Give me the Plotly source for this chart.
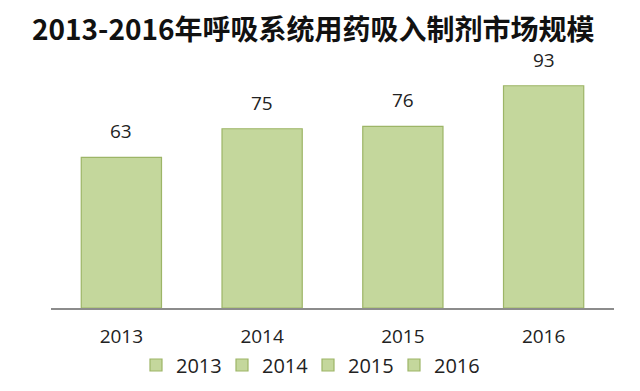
import plotly.graph_objects as go

years = ["2013", "2014", "2015", "2016"]
values = [63, 75, 76, 93]

fill = "#c4d79c"
edge = "#9db567"
font_fam = "Open Sans, Liberation Sans, sans-serif"

fig = go.Figure()
for i, (y, v) in enumerate(zip(years, values)):
    fig.add_trace(go.Bar(
        x=[y], y=[v], name=y,
        marker=dict(color=fill, line=dict(color=edge, width=1.2)),
        width=0.57,
    ))
    fig.add_annotation(x=i, y=v, text=str(v), showarrow=False,
                       yanchor="bottom", yshift=11,
                       font=dict(size=19, color="#222222", family=font_fam))

fig.update_layout(
    width=640, height=391,
    margin=dict(l=43, r=34, t=61, b=91, autoexpand=False),
    barmode="overlay",
    plot_bgcolor="white", paper_bgcolor="white",
    title=dict(text="<b>2013-2016年呼吸系统用药吸入制剂市场规模</b>",
               x=24/640, xanchor="left", y=1 - 22/391, yanchor="middle", yref="container",
               font=dict(size=28, color="#111111", family="Noto Sans CJK SC")),
    xaxis=dict(type="category", categoryorder="array", categoryarray=years,
               range=[-0.5, len(years) - 0.5], autorange=False,
               showline=True, linecolor="#8c8c8c", linewidth=1.5, ticks="",
               ticklabelstandoff=10,
               tickfont=dict(size=19, color="#222222", family=font_fam),
               showgrid=False),
    yaxis=dict(range=[0, 100], visible=False, showgrid=False),
    legend=dict(orientation="h", x=300/640, xanchor="center", xref="container",
                y=1 - 357/391, yanchor="middle", yref="container",
                font=dict(size=20, color="#222222", family=font_fam),
                itemwidth=30, traceorder="normal", entrywidth=41, entrywidthmode="pixels"),
    showlegend=True,
)

fig.write_html("out.html")
